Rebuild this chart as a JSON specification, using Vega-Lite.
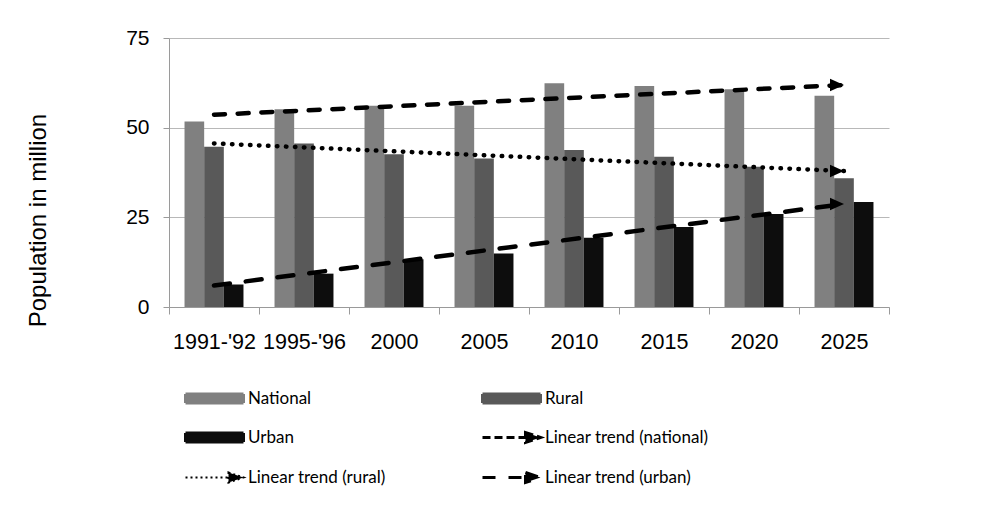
{
  "$schema": "https://vega.github.io/schema/vega-lite/v6.json",
  "width": 720,
  "height": 269,
  "autosize": "none",
  "padding": {"left": 169, "top": 38, "right": 119, "bottom": 206},
  "background": "white",
  "config": {
    "view": {"stroke": null},
    "font": "Liberation Sans"
  },
  "datasets": {
    "bars": [
      {"period": "1991-'92", "series": "National", "population": 51.7},
      {"period": "1991-'92", "series": "Rural", "population": 44.7},
      {"period": "1991-'92", "series": "Urban", "population": 6.3},
      {"period": "1995-'96", "series": "National", "population": 55.1},
      {"period": "1995-'96", "series": "Rural", "population": 45.6},
      {"period": "1995-'96", "series": "Urban", "population": 9.3},
      {"period": "2000", "series": "National", "population": 56.1},
      {"period": "2000", "series": "Rural", "population": 42.6},
      {"period": "2000", "series": "Urban", "population": 13.3},
      {"period": "2005", "series": "National", "population": 56.1},
      {"period": "2005", "series": "Rural", "population": 41.4},
      {"period": "2005", "series": "Urban", "population": 14.9},
      {"period": "2010", "series": "National", "population": 62.4},
      {"period": "2010", "series": "Rural", "population": 43.8},
      {"period": "2010", "series": "Urban", "population": 19.3},
      {"period": "2015", "series": "National", "population": 61.6},
      {"period": "2015", "series": "Rural", "population": 41.9},
      {"period": "2015", "series": "Urban", "population": 22.3},
      {"period": "2020", "series": "National", "population": 60.7},
      {"period": "2020", "series": "Rural", "population": 39.1},
      {"period": "2020", "series": "Urban", "population": 25.9},
      {"period": "2025", "series": "National", "population": 58.9},
      {"period": "2025", "series": "Rural", "population": 35.9},
      {"period": "2025", "series": "Urban", "population": 29.3}
    ],
    "trends": [
      {"period": "1991-'92", "trend": "Linear trend (national)", "population": 53.6},
      {"period": "2025", "trend": "Linear trend (national)", "population": 61.9},
      {"period": "1991-'92", "trend": "Linear trend (rural)", "population": 45.6},
      {"period": "2025", "trend": "Linear trend (rural)", "population": 37.9},
      {"period": "1991-'92", "trend": "Linear trend (urban)", "population": 6.0},
      {"period": "2025", "trend": "Linear trend (urban)", "population": 28.7}
    ]
  },
  "layer": [
    {
      "data": {"name": "bars"},
      "mark": {"type": "bar"},
      "encoding": {
        "x": {
          "field": "period", "type": "nominal", "sort": null,
          "scale": {"domain": ["1991-'92", "1995-'96", "2000", "2005", "2010", "2015", "2020", "2025"], "paddingInner": 0, "paddingOuter": 0},
          "axis": {
            "title": null, "tickBand": "extent", "labelAngle": 0, "labelOverlap": false, "labelFlush": false,
            "labelFontSize": 21.5, "labelColor": "#000", "labelPadding": 17,
            "domainColor": "#9a9a9a", "tickColor": "#9a9a9a", "tickSize": 7, "grid": false
          }
        },
        "xOffset": {
          "field": "series", "type": "nominal",
          "scale": {"domain": ["National", "Rural", "Urban"], "paddingInner": 0, "paddingOuter": 0.79}
        },
        "y": {
          "field": "population", "type": "quantitative",
          "scale": {"domain": [0, 75], "nice": false},
          "axis": {
            "title": "Population in million", "values": [0, 25, 50, 75],
            "labelFontSize": 21, "labelColor": "#000", "labelPadding": 14,
            "tickSize": 6, "tickColor": "#9a9a9a", "domainColor": "#9a9a9a",
            "gridColor": "#b8b8b8", "grid": true,
            "titleFontSize": 24, "titleFontWeight": "normal", "titleColor": "#000",
            "titleAngle": 270, "titleAlign": "center", "titleBaseline": "middle",
            "titleX": -131, "titleY": 182
          }
        },
        "color": {
          "field": "series", "type": "nominal",
          "scale": {
            "domain": ["National", "Rural", "Urban", "Linear trend (national)", "Linear trend (rural)", "Linear trend (urban)"],
            "range": ["#808080", "#595959", "#0d0d0d", "#000000", "#000000", "#000000"]
          },
          "legend": {
            "title": null, "orient": "none", "legendX": 13, "legendY": 352,
            "direction": "horizontal",
            "columns": 2, "columnPadding": 90, "rowPadding": 17,
            "symbolSize": 100, "labelOffset": 49, "labelFont": "Lato", "labelFontSize": 17,
            "labelColor": "#000", "labelLimit": 300, "padding": 0,
            "encode": {
              "symbols": {
                "update": {
                  "shape": {"signal": "indexof(['National','Rural','Urban'], datum.value) >= 0 ? 'M-1,-0.9H10.6V0.9H-1Z' : 'M-1,0H8.2M7.6,-1L10.6,0L7.6,1Z'"},
                  "fill": {"signal": "datum.value == 'National' ? '#808080' : datum.value == 'Rural' ? '#595959' : datum.value == 'Urban' ? '#0d0d0d' : '#000000'"},
                  "stroke": {"signal": "indexof(['National','Rural','Urban'], datum.value) >= 0 ? 'transparent' : '#000000'"},
                  "strokeWidth": {"signal": "datum.value == 'Linear trend (rural)' ? 2 : 3"},
                  "strokeDash": {"signal": "datum.value == 'Linear trend (national)' ? [8, 4] : datum.value == 'Linear trend (rural)' ? [2, 3] : datum.value == 'Linear trend (urban)' ? [13, 13] : [1, 0]"},
                  "opacity": {"value": 1},
                  "fillOpacity": {"value": 1}
                }
              }
            }
          }
        }
      }
    },
    {
      "data": {"name": "trends"},
      "mark": {"type": "line", "strokeWidth": 4.5, "strokeCap": "round"},
      "encoding": {
        "x": {"field": "period", "type": "nominal", "sort": null},
        "y": {"field": "population", "type": "quantitative"},
        "color": {"field": "trend", "type": "nominal"},
        "strokeDash": {
          "field": "trend", "type": "nominal", "legend": null,
          "scale": {
            "domain": ["Linear trend (national)", "Linear trend (rural)", "Linear trend (urban)"],
            "range": [[11, 12.7], [0.5, 8.5], [16, 16]]
          }
        }
      }
    },
    {
      "data": {"name": "trends"},
      "transform": [{"filter": "datum.period == '2025'"}],
      "mark": {"type": "point", "shape": "M-2,-0.9L0,0L-2,0.9Z", "filled": true, "size": 196, "opacity": 1, "strokeWidth": 0},
      "encoding": {
        "x": {"field": "period", "type": "nominal", "sort": null},
        "y": {"field": "population", "type": "quantitative"},
        "color": {"field": "trend", "type": "nominal"}
      }
    }
  ]
}
